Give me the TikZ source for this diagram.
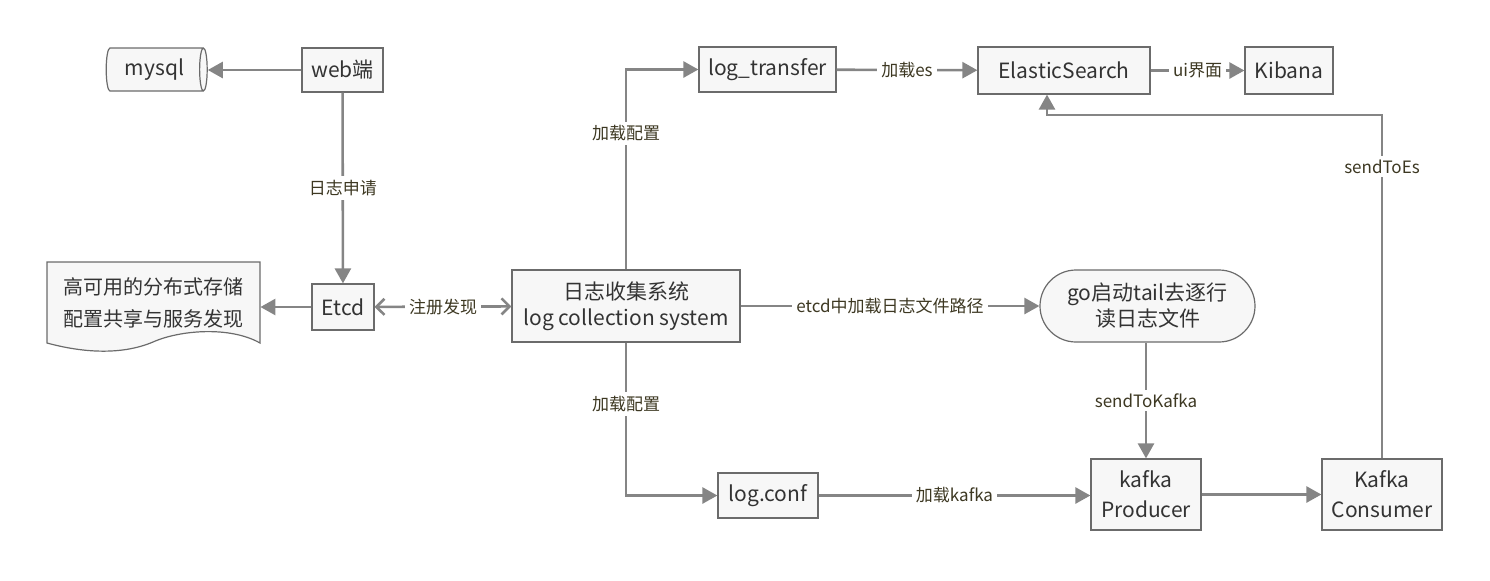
\documentclass[tikz,border=0pt]{standalone}
\usepackage{fontspec}
\setmainfont{Noto Sans CJK SC}
\usepackage{xcolor}
\usetikzlibrary{arrows.meta,shapes.geometric,positioning}
\definecolor{linegray}{HTML}{858585}
\definecolor{boxline}{HTML}{6B6B6B}
\definecolor{boxfill}{HTML}{F7F7F7}
\definecolor{boxtext}{HTML}{333333}
\definecolor{lbltext}{HTML}{3D3822}

\begin{document}
\begin{tikzpicture}[x=0.5pt,y=-0.5pt,
	box/.style={draw=boxline,fill=boxfill,line width=0.6pt,text=boxtext,
		font=\fontsize{10.5}{15}\selectfont,inner sep=0pt,align=center},
	lbl/.style={fill=white,text=lbltext,font=\fontsize{8.5}{10}\selectfont,inner sep=2pt},
	conn/.style={color=linegray,line width=1.3pt,-{Triangle[length=7.5pt,width=8pt]}},
	>={Straight Barb[length=4pt,width=8pt]}]
		\useasboundingbox (0,0) rectangle (1490,580);
		%
		\node[box,cylinder,shape border rotate=0,aspect=0.35,minimum width=21.5pt,minimum height=50.5pt] (mysql) at (154.5,69.5) {mysql};
		\node[box,minimum width=40.5pt,minimum height=22pt] (web) at (342.5,70) {web端};
		\node[box,minimum width=68.5pt,minimum height=22.5pt] (logtr) at (767.5,69.5) {log\_transfer};
		\node[box,minimum width=86pt,minimum height=23.5pt] (es) at (1064,70.5) {ElasticSearch};
		\node[box,minimum width=44pt,minimum height=23.5pt] (kibana) at (1289,70.5) {Kibana};
		%
		\draw[draw=boxline,fill=boxfill,line width=0.6pt] (47,262) -- (260,262) -- (260,343)
			.. controls (230,326) and (180,330) .. (153,342)
			.. controls (120,356) and (80,352) .. (47,343) -- cycle;
		\node[align=center,text=boxtext,font=\fontsize{10}{16}\selectfont,minimum width=106.5pt,minimum height=40.5pt,inner sep=0pt] (doc) at (153.5,302.5) {高可用的分布式存储\\配置共享与服务发现};
		\node[box,minimum width=31pt,minimum height=23pt] (etcd) at (343,307) {Etcd};
		\node[box,minimum width=114pt,minimum height=36pt,font=\fontsize{10.5}{13}\selectfont] (logsys) at (626,306) {日志收集系统\\log collection system};
		\node[box,minimum width=107.5pt,minimum height=36pt,rounded corners=18pt,font=\fontsize{10.5}{13}\selectfont] (tail) at (1147.5,306) {go启动tail去逐行\\读日志文件};
		%
		\node[box,minimum width=50pt,minimum height=22.5pt] (logconf) at (768,495.5) {log.conf};
		\node[box,minimum width=55pt,minimum height=35.5pt] (producer) at (1146,494.5) {kafka\\Producer};
		\node[box,minimum width=60pt,minimum height=35.5pt] (consumer) at (1382,494.5) {Kafka\\Consumer};
		\coordinate (esbend) at (1382,115);
		%
		\path[conn]
		(web.west) edge (web.west -| mysql.east)
		(web) edge node[lbl]{日志申请} (etcd)
		(etcd.west) edge (etcd.west -| doc.east)
		(logsys) edge node[lbl]{etcd中加载日志文件路径} (tail)
		(logtr) edge node[lbl]{加载es} (es)
		(es) edge node[lbl]{ui界面} (kibana)
		(tail.south -| producer.north) edge node[lbl]{sendToKafka} (producer.north)
		(logconf.east) edge node[lbl]{加载kafka} (logconf.east -| producer.west)
		(producer) edge (consumer);
		\draw[conn] (logsys.north) |- node[lbl,pos=0.34]{加载配置} (logtr.west);
		\draw[conn] (logsys.south) |- node[lbl,pos=0.2]{加载配置} (logconf.west);
		\draw[conn] (consumer.north) -- node[lbl,pos=0.85]{sendToEs} (esbend) -| ([xshift=-8.5pt]es.south);
		\draw[draw=linegray,line width=1.3pt,<->] (etcd) -- node[lbl]{注册发现} (logsys);
\end{tikzpicture}
\end{document}
